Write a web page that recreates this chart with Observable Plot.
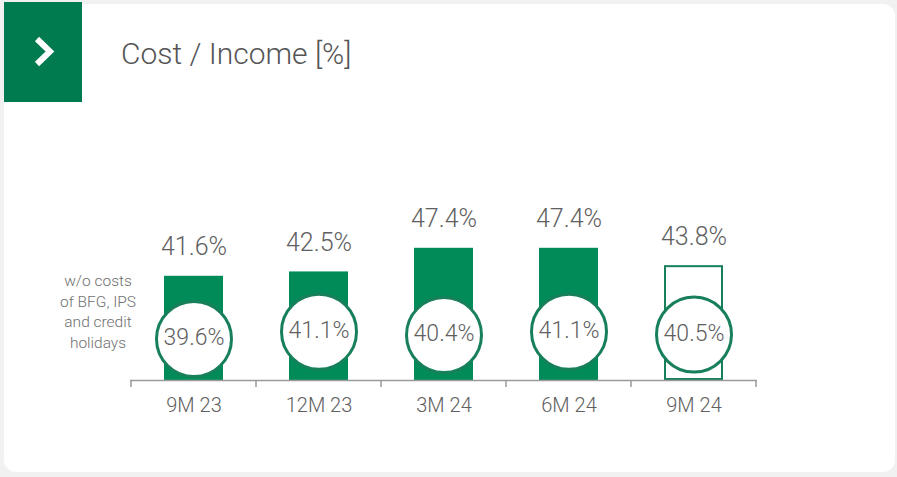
<!DOCTYPE html>
<html>
<head>
<meta charset="utf-8">
<script src="https://cdn.jsdelivr.net/npm/d3@7"></script>
<script src="https://cdn.jsdelivr.net/npm/@observablehq/plot@0.6"></script>
<style>
  html, body { margin: 0; padding: 0; background: #f1f1f1; }
  #wrap { position: relative; width: 897px; height: 477px; overflow: hidden; font-family: Roboto, "Open Sans", sans-serif; }
  #deco { position: absolute; left: 0; top: 0; }
  #chart { position: absolute; left: 0; top: 0; }
  #chart text { font-weight: 300; }
</style>
</head>
<body>
<div id="wrap">
  <svg id="deco" width="897" height="477"></svg>
  <div id="chart"></div>
</div>
<script>
// ---- data ----
const title = "Cost / Income [%]";
const categories = ["9M 23", "12M 23", "3M 24", "6M 24", "9M 24"];
const costIncome = [41.6, 42.5, 47.4, 47.4, 43.8];
const adjusted = [39.6, 41.1, 40.4, 41.1, 40.5];
const outlined = [false, false, false, false, true];
const noteLines = ["w/o costs", "of BFG, IPS", "and credit", "holidays"];

// ---- styles ----
const GREEN = "#008b59";
const BOX_GREEN = "#007a4f";
const RING = "#17805a";
const TEXT = "#606060";

// ---- decoration: card, header box, title, note ----
const deco = d3.select("#deco");
deco.append("rect").attr("x", 4).attr("y", 4).attr("width", 891).attr("height", 468)
  .attr("rx", 12).attr("fill", "#ffffff");
deco.append("rect").attr("x", 4).attr("y", 2).attr("width", 78).attr("height", 100).attr("fill", BOX_GREEN);
deco.append("polyline").attr("points", "37,39 50,51.5 37,64")
  .attr("fill", "none").attr("stroke", "#ffffff").attr("stroke-width", 6)
  .attr("stroke-linejoin", "miter");
deco.append("text").attr("x", 121).attr("y", 63.5)
  .attr("font-family", "Roboto, sans-serif").attr("font-weight", 300)
  .attr("font-size", 30).attr("fill", "#555555").text(title);
const note = deco.append("text").attr("font-family", "Roboto, sans-serif").attr("font-weight", 300)
  .attr("font-size", 15.5).attr("fill", "#707070").attr("text-anchor", "middle");
noteLines.forEach((t, i) => {
  note.append("tspan").attr("x", 98).attr("y", 286 + i * 20.7).text(t);
});

// ---- chart ----
const data = categories.map((c, i) => ({
  period: c, value: costIncome[i], adj: adjusted[i], outlined: outlined[i]
}));

const boundaryTicks = (index, scales, values, dims) => {
  const x = scales.x;
  const bw = x.bandwidth ? x.bandwidth() : 0;
  const step = x(categories[1]) - x(categories[0]);
  const y0 = dims.height - dims.marginBottom;
  const edges = categories.map(c => x(c) + bw / 2 - step / 2)
    .concat([x(categories[categories.length - 1]) + bw / 2 + step / 2]);
  const g = d3.create("svg:g");
  g.selectAll("line").data(edges).join("line")
    .attr("x1", d => d).attr("x2", d => d)
    .attr("y1", y0).attr("y2", y0 + 7)
    .attr("stroke", "#9a9a9a").attr("stroke-width", 1.5);
  return g.node();
};

const chart = Plot.plot({
  width: 897,
  height: 477,
  marginLeft: 130,
  marginRight: 140,
  marginTop: 187,
  marginBottom: 97,
  style: { background: "transparent", fontFamily: "Roboto, sans-serif" },
  x: { domain: categories, paddingInner: 0.53, paddingOuter: 0.265, label: null },
  y: { domain: [20, 60], clamp: true, axis: null },
  marks: [
    Plot.barY(data.filter(d => !d.outlined), { x: "period", y: "value", fill: GREEN }),
    Plot.barY(data.filter(d => d.outlined), { x: "period", y: "value", fill: "#ffffff", stroke: RING, strokeWidth: 2, inset: 1 }),
    Plot.ruleY([20], { stroke: "#9a9a9a", strokeWidth: 1.5 }),
    boundaryTicks,
    Plot.axisX({ tickSize: 0, tickPadding: 17, fontSize: 20, color: TEXT, label: null }),
    Plot.dot(data, { x: "period", y: "adj", r: 37.5, fill: "#ffffff", stroke: RING, strokeWidth: 3, dy: 53 }),
    Plot.text(data, { x: "period", y: "adj", text: d => d.adj.toFixed(1) + "%", dy: 52, fontSize: 23, fill: TEXT }),
    Plot.text(data, { x: "period", y: "value", text: d => d.value.toFixed(1) + "%", dy: -29, fontSize: 25, fill: TEXT })
  ]
});
document.getElementById("chart").appendChild(chart);
</script>
</body>
</html>
